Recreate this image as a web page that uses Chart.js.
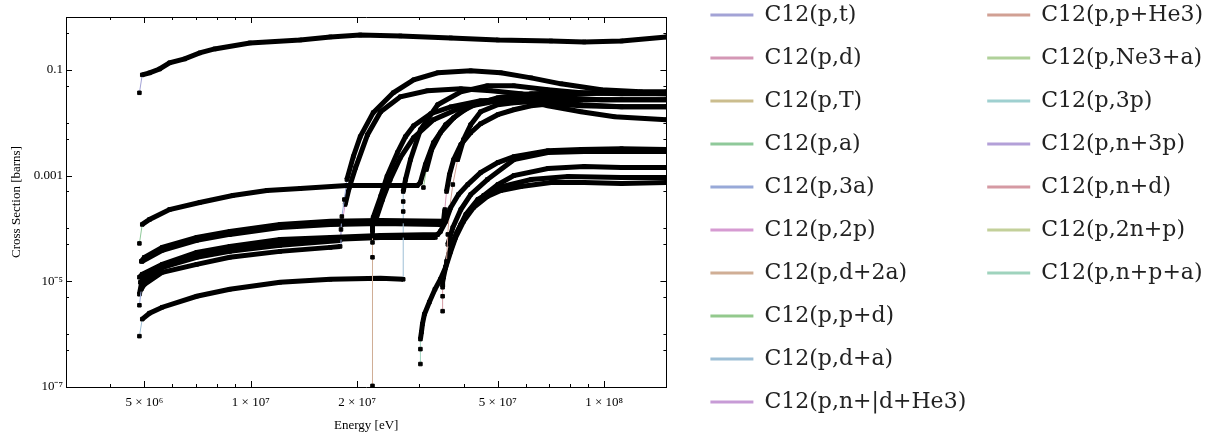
<!DOCTYPE html>
<html lang="en">
<head>
<meta charset="UTF-8">
<script src="https://cdn.jsdelivr.net/npm/chart.js"></script>
<style>
  html, body { margin: 0; padding: 0; background: #ffffff; }
  #chartContainer { width: 1223px; height: 437px; }
</style>
</head>
<body>
<div id="chartContainer"><canvas id="xsChart" width="1223" height="437"></canvas></div>
<script>
// Reaction names, in legend order
const reactions = ['C12(p,t)', 'C12(p,d)', 'C12(p,T)', 'C12(p,a)', 'C12(p,3a)', 'C12(p,2p)',
  'C12(p,d+2a)', 'C12(p,p+d)', 'C12(p,d+a)', 'C12(p,n+|d+He3)', 'C12(p,p+He3)', 'C12(p,Ne3+a)',
  'C12(p,3p)', 'C12(p,n+3p)', 'C12(p,n+d)', 'C12(p,2n+p)', 'C12(p,n+p+a)'];

// [energy eV, cross section barns]
const pt = [[4.84e6,0.0368],[4.93e6,0.0805],[5.17e6,0.0878],[5.52e6,0.104],[5.89e6,0.136],[6.5e6,0.161],[7.17e6,0.209],[7.9e6,0.249],[9.94e6,0.323],[1.38e7,0.368],[1.68e7,0.42],[2.04e7,0.457],[2.65e7,0.438],[3.68e7,0.402],[5.0e7,0.368],[7.07e7,0.352],[8.78e7,0.337],[1.12e8,0.352],[1.5e8,0.42]];
const pd = [[4.9e6,2.38e-5],[5.0e6,2.84e-5],[5.62e6,4.38e-5],[7.03e6,6.76e-5],[8.72e6,8.77e-5],[1.21e7,1.19e-4],[1.68e7,1.36e-4],[2.33e7,1.42e-4],[3.51e7,1.36e-4],[3.54e7,2.28e-4],[3.58e7,4.99e-4],[3.65e7,1.04e-3],[3.75e7,2.0e-3],[3.93e7,3.85e-3],[4.19e7,6.47e-3],[4.47e7,9.58e-3],[5.0e7,0.0142],[5.55e7,0.0176],[6.21e7,0.0209],[7.07e7,0.0228],[8.6e7,0.0209],[1.12e8,0.02],[1.5e8,0.02]];
const pTT = [[4.84e6,1.19e-5],[4.93e6,1.36e-5],[5.62e6,2.09e-5],[7.03e6,3.52e-5],[8.72e6,4.57e-5],[1.21e7,6.2e-5],[1.68e7,6.76e-5],[2.33e7,7.38e-5],[3.38e7,7.71e-5],[3.44e7,8.77e-5],[3.56e7,1.36e-4],[3.68e7,2.49e-4],[3.87e7,4.38e-4],[4.11e7,6.76e-4],[4.47e7,1.14e-3],[5.0e7,1.76e-3],[5.55e7,2.28e-3],[6.93e7,2.96e-3],[8.6e7,3.1e-3],[1.12e8,3.23e-3],[1.5e8,3.1e-3]];
const pa = [[4.84e6,5.21e-5],[4.93e6,1.19e-4],[5.17e6,1.48e-4],[5.89e6,2.28e-4],[7.17e6,3.1e-4],[8.89e6,4.2e-4],[1.11e7,5.21e-4],[1.38e7,5.68e-4],[1.87e7,6.48e-4],[2.33e7,6.48e-4],[2.96e7,6.48e-4],[3.02e7,7.4e-4],[3.12e7,1.61e-3],[3.29e7,4.2e-3],[3.56e7,9.17e-3],[3.93e7,0.0161],[4.47e7,0.0249],[5.55e7,0.031],[6.93e7,0.0352],[8.6e7,0.0352],[1.12e8,0.0368],[1.5e8,0.0368]];
const p3a = [[4.84e6,3.52e-6],[4.9e6,7.06e-6],[5.0e6,8.77e-6],[5.62e6,1.48e-5],[7.03e6,2.09e-5],[8.72e6,2.84e-5],[1.21e7,3.68e-5],[1.68e7,4.38e-5],[1.79e7,4.57e-5],[1.8e7,9.58e-5],[1.81e7,1.68e-4],[1.84e7,3.53e-4],[1.87e7,8.4e-4],[1.95e7,2.28e-3],[2.04e7,5.45e-3],[2.22e7,0.0155],[2.53e7,0.0368],[2.89e7,0.0648],[3.38e7,0.0878],[4.19e7,0.0958],[5.1e7,0.0878],[6.21e7,0.0706],[7.55e7,0.0544],[9.81e7,0.042],[1.27e8,0.0385],[1.5e8,0.0385]];
const p2p = [[4.84e6,5.68e-6],[4.93e6,1.09e-5],[5.62e6,1.84e-5],[7.03e6,2.84e-5],[8.72e6,3.68e-5],[1.21e7,4.78e-5],[1.79e7,5.94e-5],[1.81e7,1.19e-4],[1.85e7,2.84e-4],[1.9e7,5.94e-4],[1.98e7,1.42e-3],[2.14e7,5.94e-3],[2.33e7,0.0161],[2.65e7,0.031],[3.16e7,0.0402],[3.93e7,0.0438],[4.78e7,0.0402],[5.81e7,0.0352],[7.55e7,0.0296],[9.81e7,0.0272],[1.5e8,0.0272]];
const pd2a = [[2.21e7,1.05e-7],[2.21e7,2.84e-5],[2.21e7,5.44e-5],[2.21e7,8.4e-5],[2.21e7,1.09e-4],[2.22e7,1.61e-4],[2.33e7,4.02e-4],[2.43e7,9.6e-4],[2.6e7,2.72e-3],[2.74e7,5.45e-3],[2.89e7,8.77e-3],[3.23e7,0.0148],[3.68e7,0.02],[4.47e7,0.026],[5.55e7,0.0272],[6.93e7,0.0249],[8.6e7,0.0219],[1.12e8,0.02],[1.5e8,0.02]];
const ppd = [[3.08e7,5.94e-4],[3.14e7,1.3e-3],[3.25e7,3.1e-3],[3.44e7,6.47e-3],[3.75e7,0.0124],[4.19e7,0.0209],[5.0e7,0.0296],[6.21e7,0.0352],[7.91e7,0.0368],[1.12e8,0.0368],[1.5e8,0.0352]];
const pda = [[4.84e6,9.16e-7],[4.93e6,1.92e-6],[5.17e6,2.49e-6],[5.62e6,3.23e-6],[7.03e6,5.21e-6],[8.72e6,7.06e-6],[1.21e7,9.58e-6],[1.68e7,1.09e-5],[2.33e7,1.14e-5],[2.7e7,1.09e-5],[2.7e7,2.09e-4],[2.7e7,3.23e-4],[2.7e7,4.99e-4],[2.74e7,8.4e-4],[2.83e7,2.0e-3],[3.02e7,7.38e-3],[3.38e7,0.0219],[3.93e7,0.0385],[4.67e7,0.0499],[5.55e7,0.0499],[6.93e7,0.042],[8.6e7,0.0368],[1.12e8,0.0352],[1.5e8,0.0352]];
const pndHe3 = [[2.25e7,1.36e-4],[2.36e7,3.53e-4],[2.48e7,8.4e-4],[2.65e7,2.19e-3],[2.89e7,5.21e-3],[3.29e7,0.0114],[3.93e7,0.0192],[5.0e7,0.026],[6.21e7,0.0284],[8.6e7,0.0272],[1.12e8,0.0272],[1.5e8,0.0272]];
const ppHe3 = [[3.58e7,2.38e-5],[3.61e7,7.71e-5],[3.65e7,2.28e-4],[3.73e7,6.76e-4],[3.85e7,2.0e-3],[4.0e7,4.78e-3],[4.19e7,9.17e-3],[4.47e7,0.0161],[5.0e7,0.0219],[5.55e7,0.0238],[6.21e7,0.0249],[6.93e7,0.0209],[8.6e7,0.0161],[1.07e8,0.013],[1.5e8,0.0114]];
const pNe3a = [[4.93e6,2.38e-5],[5.62e6,3.85e-5],[7.03e6,5.94e-5],[8.72e6,7.71e-5],[1.21e7,1.04e-4],[1.68e7,1.19e-4],[2.33e7,1.24e-4],[3.44e7,1.19e-4]];
const p3p = [[4.87e6,9.58e-6],[5.62e6,1.84e-5],[7.03e6,3.1e-5],[8.72e6,4.02e-5],[1.21e7,5.44e-5],[1.68e7,6.2e-5],[2.33e7,6.76e-5],[3.33e7,6.76e-5]];
const pn3p = [[3.68e7,4.02e-5],[3.83e7,8.4e-5],[4.06e7,1.84e-4],[4.39e7,3.53e-4],[5.0e7,5.94e-4],[6.21e7,8.4e-4],[7.91e7,9.6e-4],[1.12e8,9.17e-4],[1.5e8,9.17e-4]];
const pnd = [[3.49e7,2.72e-6],[3.49e7,5.21e-6],[3.49e7,7.7e-6],[3.49e7,9.58e-6],[3.51e7,1.19e-5],[3.56e7,1.84e-5],[3.63e7,3.23e-5],[3.75e7,6.2e-5],[3.93e7,1.19e-4],[4.19e7,2.28e-4],[4.56e7,4.2e-4],[5.0e7,6.76e-4],[5.55e7,1.0e-3],[6.93e7,1.36e-3],[8.78e7,1.48e-3],[1.12e8,1.42e-3],[1.5e8,1.42e-3]];
const p2np = [[3.61e7,4.99e-5],[3.73e7,1.04e-4],[3.93e7,2.28e-4],[4.19e7,4.38e-4],[4.67e7,8.4e-4],[5.55e7,2.0e-3],[6.93e7,2.72e-3],[8.78e7,2.84e-3],[1.12e8,2.84e-3],[1.5e8,2.84e-3]];
const pnpa = [[3.02e7,2.72e-7],[3.02e7,5.21e-7],[3.02e7,8.05e-7],[3.04e7,1.09e-6],[3.06e7,1.55e-6],[3.1e7,2.38e-6],[3.2e7,4.02e-6],[3.32e7,7.06e-6],[3.44e7,1.09e-5],[3.56e7,1.84e-5],[3.68e7,3.68e-5],[3.8e7,6.76e-5],[4.0e7,1.36e-4],[4.27e7,2.49e-4],[4.67e7,4.02e-4],[5.1e7,5.21e-4],[5.81e7,6.2e-4],[7.07e7,7.4e-4],[8.78e7,7.4e-4],[1.12e8,7.06e-4],[1.5e8,7.4e-4]];

const series = [pt, pd, pTT, pa, p3a, p2p, pd2a, ppd, pda, pndHe3, ppHe3, pNe3a, p3p, pn3p, pnd, p2np, pnpa];

// Axis ticks
const xMajor = [5e6, 1e7, 2e7, 5e7, 1e8];
const xMajorLabels = ['5 × 10⁶', '1 × 10⁷', '2 × 10⁷', '5 × 10⁷', '1 × 10⁸'];
const xMinor = [3e6, 4e6, 6e6, 7e6, 8e6, 9e6, 3e7, 4e7, 6e7, 7e7, 8e7, 9e7];
const yMajor = [1e-7, 1e-5, 1e-3, 0.1];
const yMajorLabels = ['10⁻⁷', '10⁻⁵', '0.001', '0.1'];
const yMinor = [5e-7, 1e-6, 5e-6, 5e-5, 1e-4, 5e-4, 5e-3, 1e-2, 5e-2, 0.5, 1];

// Pastel line colours of the legend
const lineColors = ['#a3a3d6', '#d497b5', '#cbbd8e', '#8fc99a', '#98a9d8', '#d69bd2', '#d0ae95', '#93c98d', '#9ebfd6',
  '#c79bd6', '#d1a094', '#b0d19a', '#9fd0d0', '#b3a0d8', '#d59aa3', '#c3d09a', '#9fd3bd'];

// near-vertical jumps are drawn as thin coloured lines, the rest as the dense black marker trail
const isJump = c => Math.abs(c.p1.y - c.p0.y) > 3 * Math.abs(c.p1.x - c.p0.x) + 8;

const datasets = series.map((arr, i) => ({
  label: reactions[i],
  data: arr.map(([x, y]) => ({ x, y })),
  borderColor: lineColors[i],
  borderWidth: 1,
  pointStyle: 'rect',
  pointRadius: 2.5,
  pointBackgroundColor: '#000',
  pointBorderColor: '#000',
  pointBorderWidth: 1,
  tension: 0,
  segment: {
    borderColor: c => isJump(c) ? undefined : '#000',
    borderWidth: c => isJump(c) ? 1 : 5
  }
}));

// Mathematica style inward frame ticks on all four sides
const frameTicks = {
  id: 'frameTicks',
  afterDraw(chart) {
    const { ctx, chartArea: a, scales: { x, y } } = chart;
    ctx.save();
    ctx.strokeStyle = '#000';
    ctx.lineWidth = 1;
    const seg = (x0, y0, x1, y1) => { ctx.beginPath(); ctx.moveTo(x0, y0); ctx.lineTo(x1, y1); ctx.stroke(); };
    const xt = (v, len) => { const px = Math.round(x.getPixelForValue(v)) + 0.5; seg(px, a.bottom, px, a.bottom - len); seg(px, a.top, px, a.top + len); };
    const yt = (v, len) => { const py = Math.round(y.getPixelForValue(v)) + 0.5; seg(a.left, py, a.left + len, py); seg(a.right, py, a.right - len, py); };
    xMajor.forEach(v => xt(v, 6));
    xMinor.forEach(v => xt(v, 3));
    yMajor.forEach(v => yt(v, 6));
    yMinor.forEach(v => yt(v, 3));
    ctx.restore();
  }
};

Chart.defaults.color = '#000';
const serif = 'Liberation Serif';

new Chart(document.getElementById('xsChart').getContext('2d'), {
  type: 'line',
  data: { datasets },
  plugins: [frameTicks],
  options: {
    responsive: false,
    animation: false,
    devicePixelRatio: 1,
    layout: { padding: { top: -17, right: 10, left: 0, bottom: 0 } },
    scales: {
      x: {
        type: 'logarithmic', position: 'bottom', min: 3e6, max: 1.5e8,
        afterBuildTicks: s => { s.ticks = xMajor.map(v => ({ value: v })); },
        afterFit: s => { s.height = 50; },
        ticks: {
          autoSkip: false, maxRotation: 0, padding: 8,
          font: { family: serif, size: 13 },
          callback: v => xMajorLabels[xMajor.indexOf(v)]
        },
        grid: { display: false, drawTicks: false },
        border: { display: true, color: '#000', width: 1 },
        title: { display: true, text: 'Energy [eV]', font: { family: serif, size: 13 }, padding: { top: 0, bottom: 4 } }
      },
      xTop: {
        type: 'logarithmic', position: 'top', min: 3e6, max: 1.5e8,
        afterFit: s => { s.height = 34; },
        ticks: { display: false },
        grid: { display: false, drawTicks: false },
        border: { display: true, color: '#000', width: 1 }
      },
      y: {
        type: 'logarithmic', position: 'left', min: 1e-7, max: 1,
        afterBuildTicks: s => { s.ticks = yMajor.map(v => ({ value: v })); },
        afterFit: s => { s.width = 66; },
        ticks: {
          autoSkip: false, padding: 3,
          font: { family: serif, size: 13 },
          callback: v => yMajorLabels[yMajor.indexOf(v)]
        },
        grid: { display: false, drawTicks: false },
        border: { display: true, color: '#000', width: 1 },
        title: { display: true, text: 'Cross Section [barns]', font: { family: serif, size: 13 }, padding: { top: 9, bottom: 0 } }
      },
      yRight: {
        type: 'linear', position: 'right',
        afterFit: s => { s.width = 23; },
        ticks: { display: false },
        grid: { display: false, drawTicks: false },
        border: { display: true, color: '#000', width: 1 }
      }
    },
    plugins: {
      legend: {
        position: 'right',
        align: 'start',
        maxWidth: 540,
        labels: {
          boxWidth: 43,
          boxHeight: 0,
          padding: 21,
          color: '#222',
          font: { family: 'DejaVu Serif', size: 22 },
          generateLabels: chart => Chart.defaults.plugins.legend.labels.generateLabels(chart)
            .map(l => ({ ...l, lineWidth: 3, fillStyle: 'rgba(0,0,0,0)' }))
        }
      },
      tooltip: { enabled: false }
    }
  }
});
</script>
</body>
</html>
